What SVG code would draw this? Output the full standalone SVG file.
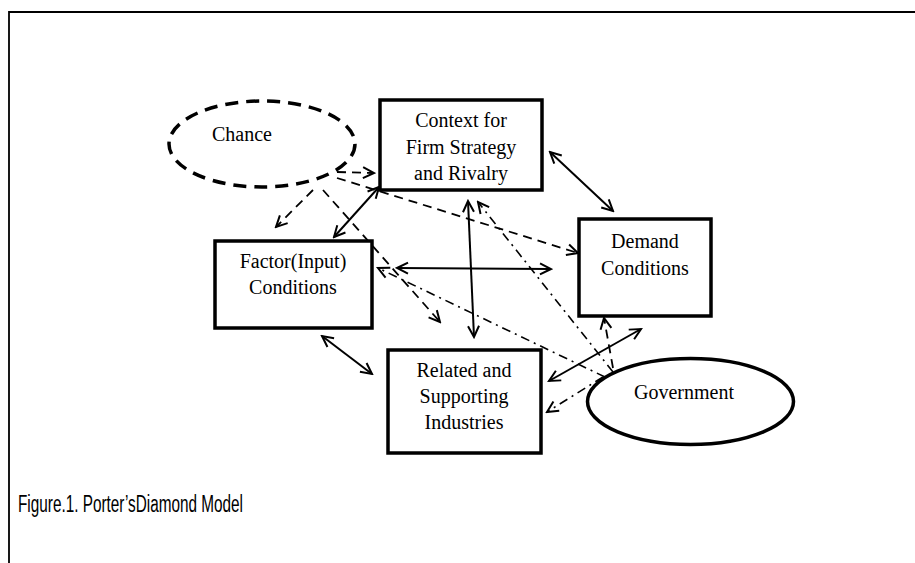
<svg xmlns="http://www.w3.org/2000/svg" width="915" height="563" viewBox="0 0 915 563">
<style>
.box{fill:#fff;stroke:#000;stroke-width:3.5}
.lbl{font-family:"Liberation Serif","Times New Roman",serif;font-size:20px;fill:#000;text-anchor:middle}
.solid{fill:none;stroke:#000;stroke-width:2}
.dash{fill:none;stroke:#000;stroke-width:1.8;stroke-dasharray:9,6}
.dashdot{fill:none;stroke:#000;stroke-width:1.6;stroke-dasharray:9,5,2,5}
</style>
<defs>
<marker id="ah" viewBox="-14 -8 16 16" refX="0" refY="0" markerWidth="16" markerHeight="16" markerUnits="userSpaceOnUse" orient="auto-start-reverse">
<path d="M-11,-5.5 L0,0 L-11,5.5" fill="none" stroke="#000" stroke-width="2"/>
</marker>
</defs>
<rect width="915" height="563" fill="#fff"/>
<path d="M9,563 V12 H915" fill="none" stroke="#000" stroke-width="1.8"/>

<g id="connectors">
<line class="dash" x1="337" y1="172" x2="374" y2="173" marker-end="url(#ah)"/>
<line class="dash" x1="313" y1="190" x2="276" y2="227" marker-end="url(#ah)"/>
<line class="dash" x1="337" y1="178" x2="578" y2="253" marker-end="url(#ah)"/>
<line class="dash" x1="323" y1="190" x2="440" y2="322" marker-end="url(#ah)"/>
<line class="solid" x1="334" y1="237" x2="379" y2="187" marker-start="url(#ah)" marker-end="url(#ah)"/>
<line class="solid" x1="550" y1="152" x2="613" y2="211" marker-start="url(#ah)" marker-end="url(#ah)"/>
<line class="solid" x1="468" y1="201" x2="474" y2="337" marker-start="url(#ah)" marker-end="url(#ah)"/>
<line class="solid" x1="397" y1="268" x2="551" y2="269" marker-start="url(#ah)" marker-end="url(#ah)"/>
<line class="solid" x1="322" y1="336" x2="372" y2="374" marker-start="url(#ah)" marker-end="url(#ah)"/>
<line class="solid" x1="549" y1="381" x2="641" y2="329" marker-start="url(#ah)" marker-end="url(#ah)"/>
<line class="dashdot" x1="605" y1="377" x2="378" y2="268" marker-end="url(#ah)"/>
<line class="dashdot" x1="613" y1="372" x2="478" y2="202" marker-end="url(#ah)"/>
<line class="dash" x1="613" y1="368" x2="604" y2="318" marker-end="url(#ah)"/>
<line class="dashdot" x1="603" y1="377" x2="547" y2="412" marker-end="url(#ah)"/>
</g>

<g id="chance">
<ellipse cx="262" cy="144" rx="93" ry="43" fill="none" stroke="#000" stroke-width="3.5" stroke-dasharray="13,8"/>
<text class="lbl" x="242" y="141">Chance</text>
</g>
<g id="context">
<rect class="box" x="380" y="100" width="162" height="90"/>
<text class="lbl" x="461" y="127">Context for</text>
<text class="lbl" x="461" y="154">Firm Strategy</text>
<text class="lbl" x="461" y="180">and Rivalry</text>
</g>
<g id="factor">
<rect class="box" x="215" y="241" width="157" height="87"/>
<text class="lbl" x="293" y="268">Factor(Input)</text>
<text class="lbl" x="293" y="294">Conditions</text>
</g>
<g id="demand">
<rect class="box" x="579" y="219" width="132" height="97"/>
<text class="lbl" x="645" y="248">Demand</text>
<text class="lbl" x="645" y="275">Conditions</text>
</g>
<g id="related">
<rect class="box" x="388" y="350" width="153" height="103"/>
<text class="lbl" x="464" y="377">Related and</text>
<text class="lbl" x="464" y="403">Supporting</text>
<text class="lbl" x="464" y="429">Industries</text>
</g>
<g id="government">
<ellipse cx="690.5" cy="401.5" rx="103" ry="43" fill="#fff" stroke="#000" stroke-width="3.5"/>
<text class="lbl" x="684" y="399">Government</text>
</g>
<text x="18" y="512" font-family="'Liberation Sans',Arial,sans-serif" font-size="23" textLength="225" lengthAdjust="spacingAndGlyphs" fill="#000">Figure.1. Porter’sDiamond Model</text>
</svg>
